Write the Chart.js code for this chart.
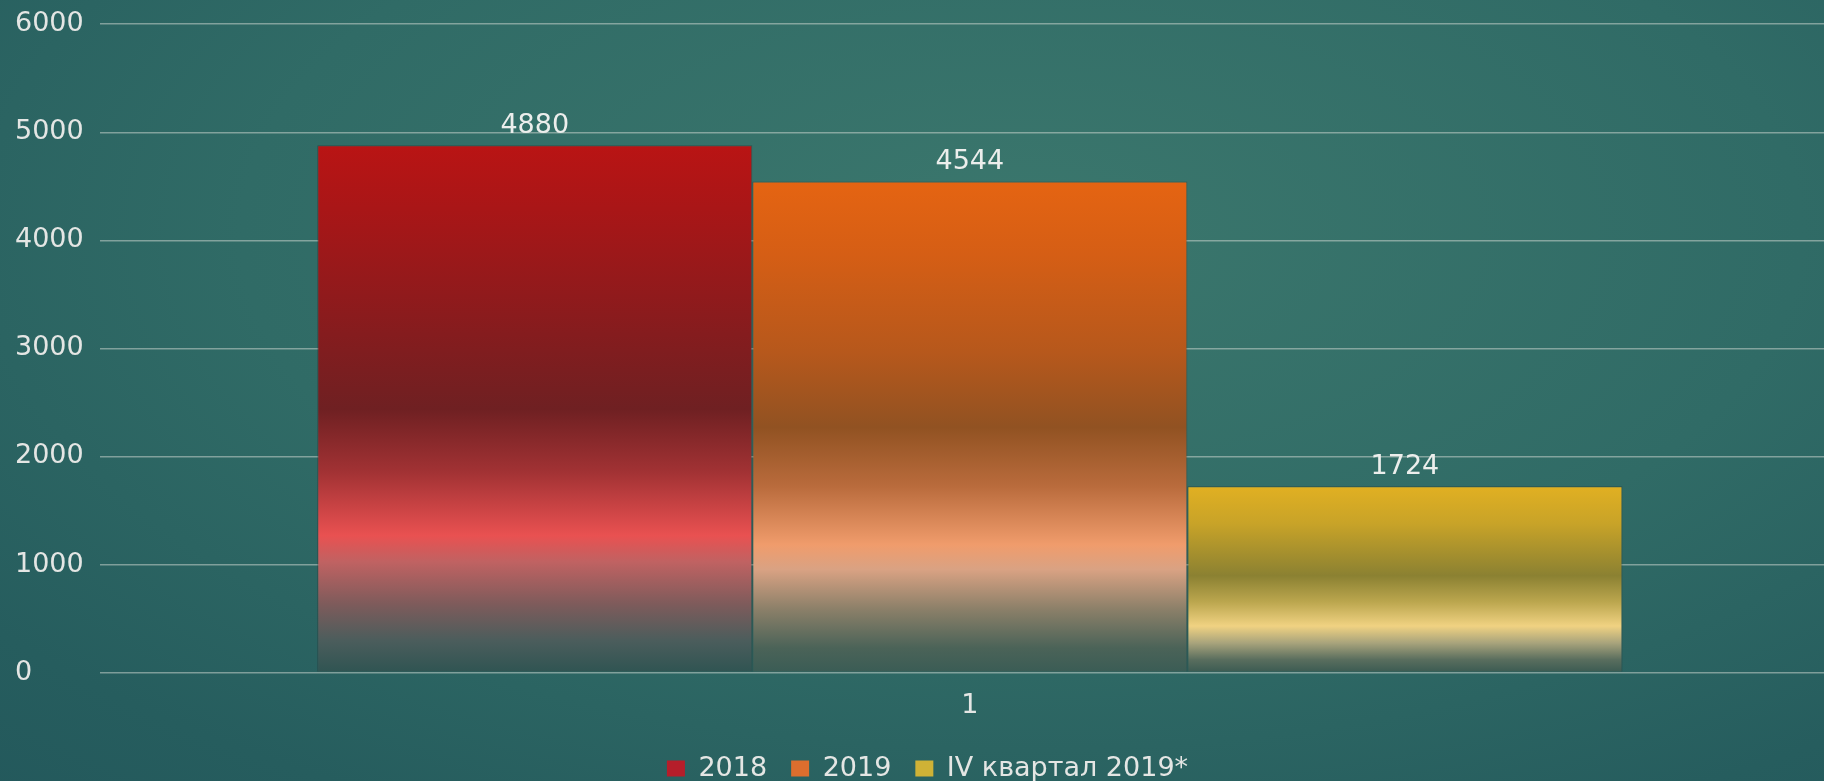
<!DOCTYPE html>
<html>
<head>
<meta charset="utf-8">
<script src="https://cdn.jsdelivr.net/npm/chart.js@4"></script>
<style>
    html, body {
        margin: 0;
        padding: 0;
        overflow: hidden;
        width: 1824px;
        height: 781px;
        background: radial-gradient(ellipse 95% 110% at 56% 30%, #3b776d 0%, #306b66 45%, #265d5e 75%, #21555a 100%);}
    #wrap {
        position: absolute;
        left: 0;
        top: 0;
        width: 1840px;
        height: 794px;}
</style>
</head>
<body>
<div id="wrap"><canvas id="volumeChart"></canvas></div>

<script>

// Data

var categories = ['1'];
var series_names = ['2018', '2019', 'IV квартал 2019*'];
var values_2018 = [4880];
var values_2019 = [4544];
var values_q4_2019 = [1724];
var y_ticks = [0, 1000, 2000, 3000, 4000, 5000, 6000];


// Look

var text_color = '#e4e6e4';
var legend_colors = ['#b51e2a', '#dd6e2e', '#cfb236'];

var bar_stops = [
    [[0, '#b91414'], [0.12, '#a91617'], [0.32, '#8b1b1d'], [0.5, '#6f2022'],
     [0.62, '#a23234'], [0.74, '#e95151'], [0.79, '#c06262'], [0.87, '#7e5b5b'],
     [0.94, '#4b5d5c'], [1, '#2f5452']],
    [[0, '#e56412'], [0.15, '#d55e15'], [0.35, '#b6581c'], [0.5, '#915222'],
     [0.62, '#b96b3c'], [0.74, '#f09c6c'], [0.79, '#d9a283'], [0.87, '#8c8069'],
     [0.95, '#4b6358'], [1, '#3a5c55']],
    [[0, '#e1b022'], [0.2, '#c8a328'], [0.48, '#8b8132'], [0.62, '#bba64e'],
     [0.75, '#f0d282'], [0.84, '#a9a47c'], [0.93, '#5a6e5e'], [1, '#3a5a52']],
];

Chart.defaults.font.family = "'DejaVu Sans', sans-serif";
Chart.defaults.font.size = 27;
Chart.defaults.color = text_color;


function bar_fill(context) {

    var i = context.datasetIndex;
    var chart = context.chart;
    if (!chart.chartArea || context.type !== 'data') {
        return legend_colors[i];}

    var y_scale = chart.scales.y;
    var top = y_scale.getPixelForValue(context.parsed.y);
    var base = y_scale.getPixelForValue(0);
    var grad = chart.ctx.createLinearGradient(0, top, 0, base);

    bar_stops[i].forEach(function(s) {
        grad.addColorStop(s[0], s[1]);});

    return grad;
}


// value above each bar

var value_labels = {
    id: 'value_labels',
    afterDraw: function(chart) {
        var ctx = chart.ctx;
        ctx.save();
        ctx.font = "27px 'DejaVu Sans', sans-serif";
        ctx.fillStyle = '#eceeec';
        ctx.textAlign = 'center';
        ctx.textBaseline = 'bottom';
        chart.data.datasets.forEach(function(ds, d) {
            var meta = chart.getDatasetMeta(d);
            meta.data.forEach(function(bar, k) {
                ctx.fillText(String(ds.data[k]), bar.x, bar.y - 6);});});
        ctx.restore();}
};


function volume_chart() {

    var ctx = document.getElementById('volumeChart').getContext('2d');
    var all_values = [values_2018, values_2019, values_q4_2019];

    var datasets = [];
    for (var i = 0; i < series_names.length; i++) {
        datasets.push({
            label: series_names[i],
            data: all_values[i],
            backgroundColor: bar_fill,
            borderColor: 'rgba(40, 30, 30, 0.35)',
            borderWidth: 1,});
    }

    new Chart(ctx, {
        type: 'bar',

        data: {
            labels: categories,
            datasets: datasets,},

        options: {
            responsive: true,
            maintainAspectRatio: false,
            animation: false,
            barPercentage: 1.0,
            categoryPercentage: 0.75,
            layout: {padding: {left: 15, top: 3, right: 0, bottom: 2}},

            scales: {
                y: {
                    z: 1,
                    min: 0,
                    max: 6000,
                    afterBuildTicks: function(axis) {
                        axis.ticks = y_ticks.map(function(v) { return {value: v}; });},
                    border: {display: false,},
                    grid: {
                        color: 'rgba(214, 220, 214, 0.5)',
                        lineWidth: 1.5,
                        drawTicks: false,},
                    ticks: {
                        crossAlign: 'far',
                        padding: 8,
                        color: text_color,
                        callback: function(value) {
                            return String(value);},},},
                x: {
                    border: {display: false,},
                    grid: {display: false,},
                    ticks: {
                        padding: 9,
                        color: text_color,},},
            },

            plugins: {
                legend: {
                    position: 'bottom',
                    labels: {
                        boxWidth: 18,
                        boxHeight: 16,
                        padding: 24,
                        color: text_color,
                        generateLabels: function(chart) {
                            return series_names.map(function(name, i) {
                                return {
                                    text: name,
                                    fillStyle: legend_colors[i],
                                    strokeStyle: legend_colors[i],
                                    fontColor: text_color,
                                    lineWidth: 0,
                                    datasetIndex: i,
                                    hidden: false,};});},},},
                tooltip: {enabled: false,},
                title: {display: false,},},
        },
        plugins: [value_labels],
    });
}

volume_chart();

</script>
</body>
</html>
